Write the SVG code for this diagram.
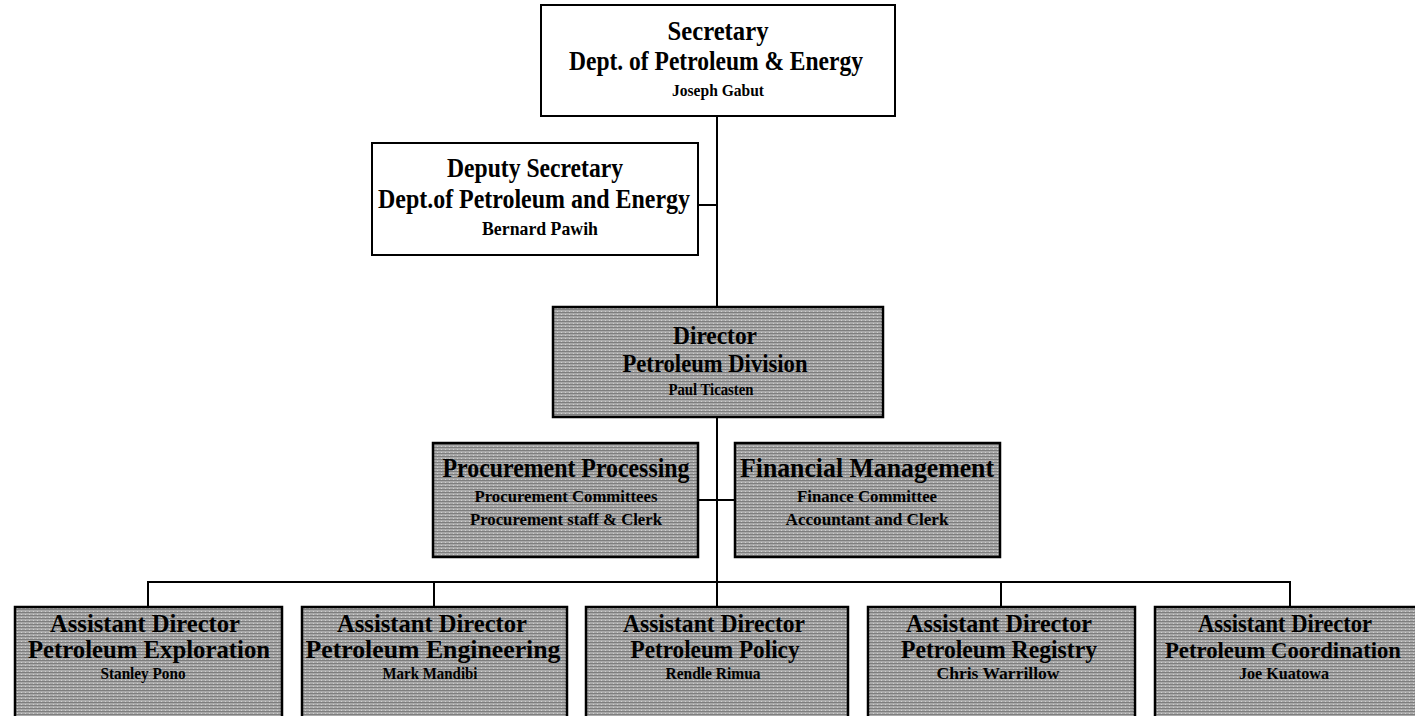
<svg xmlns="http://www.w3.org/2000/svg" width="1415" height="716" viewBox="0 0 1415 716">
<defs>
<pattern id="tex" width="4" height="3" patternUnits="userSpaceOnUse">
<rect width="4" height="3" fill="#a9a9a9"/>
<rect y="0" width="4" height="1" fill="#7e7e7e"/>
<rect x="1" y="2" width="1" height="1" fill="#cfcfcf"/>
</pattern>
<style>
.w{fill:#fff;stroke:#000;stroke-width:2}
.g{fill:url(#tex);stroke:#000;stroke-width:2.5}
text{font-family:"Liberation Serif","Times New Roman",serif;font-weight:bold;fill:#000;text-anchor:middle}
.h{font-size:27px}
.d{font-size:25px}
.b{font-size:25px}
.s{font-size:17px}
.c line,.c path{stroke:#000;stroke-width:2;fill:none}
</style>
</defs>
<rect width="1415" height="716" fill="#fff"/>
<g class="c" id="connectors">
<line x1="717" y1="116" x2="717" y2="307"/>
<line x1="698" y1="205" x2="717" y2="205"/>
<line x1="717" y1="417" x2="717" y2="607"/>
<line x1="698" y1="500" x2="735" y2="500"/>
<path d="M148 607V582H1290V607"/>
<line x1="434" y1="582" x2="434" y2="607"/>
<line x1="1001" y1="582" x2="1001" y2="607"/>
</g>
<g id="secretary">
<rect class="w" x="541" y="5" width="354" height="111"/>
<text class="h" x="718" y="40" textLength="101" lengthAdjust="spacingAndGlyphs">Secretary</text>
<text class="h" x="716" y="70" textLength="294" lengthAdjust="spacingAndGlyphs">Dept. of Petroleum &amp; Energy</text>
<text class="s" x="718" y="96" textLength="92" lengthAdjust="spacingAndGlyphs">Joseph Gabut</text>
</g>
<g id="deputy">
<rect class="w" x="372" y="143" width="326" height="112"/>
<text class="h" x="535" y="177" textLength="176" lengthAdjust="spacingAndGlyphs">Deputy Secretary</text>
<text class="h" x="534" y="208" textLength="312" lengthAdjust="spacingAndGlyphs">Dept.of Petroleum and Energy</text>
<text class="s" x="540" y="235" style="font-size:19px" textLength="116" lengthAdjust="spacingAndGlyphs">Bernard Pawih</text>
</g>
<g id="director">
<rect class="g" x="553" y="307" width="330" height="110"/>
<text class="d" x="715" y="344" textLength="84" lengthAdjust="spacingAndGlyphs">Director</text>
<text class="d" x="715" y="372" textLength="185" lengthAdjust="spacingAndGlyphs">Petroleum Division</text>
<text class="s" x="711" y="395" textLength="85" lengthAdjust="spacingAndGlyphs">Paul Ticasten</text>
</g>
<g id="procurement">
<rect class="g" x="433" y="443" width="265" height="114"/>
<text class="h" x="566" y="477" textLength="247" lengthAdjust="spacingAndGlyphs">Procurement Processing</text>
<text class="s" x="566" y="502" textLength="183" lengthAdjust="spacingAndGlyphs">Procurement Committees</text>
<text class="s" x="566" y="525" textLength="192" lengthAdjust="spacingAndGlyphs">Procurement staff &amp; Clerk</text>
</g>
<g id="financial">
<rect class="g" x="735" y="443" width="265" height="114"/>
<text class="h" x="867" y="477" textLength="254" lengthAdjust="spacingAndGlyphs">Financial Management</text>
<text class="s" x="867" y="502" textLength="140" lengthAdjust="spacingAndGlyphs">Finance Committee</text>
<text class="s" x="867" y="525" textLength="163" lengthAdjust="spacingAndGlyphs">Accountant and Clerk</text>
</g>
<g id="ad-exploration">
<rect class="g" x="15" y="607" width="267" height="112"/>
<text class="b" x="145" y="632" textLength="190" lengthAdjust="spacingAndGlyphs">Assistant Director</text>
<text class="b" x="149" y="658" textLength="242" lengthAdjust="spacingAndGlyphs">Petroleum Exploration</text>
<text class="s" x="143" y="679" textLength="85" lengthAdjust="spacingAndGlyphs">Stanley Pono</text>
</g>
<g id="ad-engineering">
<rect class="g" x="302" y="607" width="265" height="112"/>
<text class="b" x="432" y="632" textLength="190" lengthAdjust="spacingAndGlyphs">Assistant Director</text>
<text class="b" x="433" y="658" textLength="255" lengthAdjust="spacingAndGlyphs">Petroleum Engineering</text>
<text class="s" x="430" y="679" textLength="95" lengthAdjust="spacingAndGlyphs">Mark Mandibi</text>
</g>
<g id="ad-policy">
<rect class="g" x="586" y="607" width="262" height="112"/>
<text class="b" x="714" y="632" textLength="182" lengthAdjust="spacingAndGlyphs">Assistant Director</text>
<text class="b" x="715" y="658" textLength="169" lengthAdjust="spacingAndGlyphs">Petroleum Policy</text>
<text class="s" x="713" y="679" textLength="95" lengthAdjust="spacingAndGlyphs">Rendle Rimua</text>
</g>
<g id="ad-registry">
<rect class="g" x="868" y="607" width="267" height="112"/>
<text class="b" x="999" y="632" textLength="186" lengthAdjust="spacingAndGlyphs">Assistant Director</text>
<text class="b" x="999" y="658" textLength="196" lengthAdjust="spacingAndGlyphs">Petroleum Registry</text>
<text class="s" x="998" y="679" textLength="123" lengthAdjust="spacingAndGlyphs">Chris Warrillow</text>
</g>
<g id="ad-coordination">
<rect class="g" x="1155" y="607" width="275" height="112"/>
<text class="b" x="1285" y="632" textLength="174" lengthAdjust="spacingAndGlyphs">Assistant Director</text>
<text class="b" x="1283" y="658" style="font-size:23px" textLength="236" lengthAdjust="spacingAndGlyphs">Petroleum Coordination</text>
<text class="s" x="1284" y="679" textLength="90" lengthAdjust="spacingAndGlyphs">Joe Kuatowa</text>
</g>
</svg>
